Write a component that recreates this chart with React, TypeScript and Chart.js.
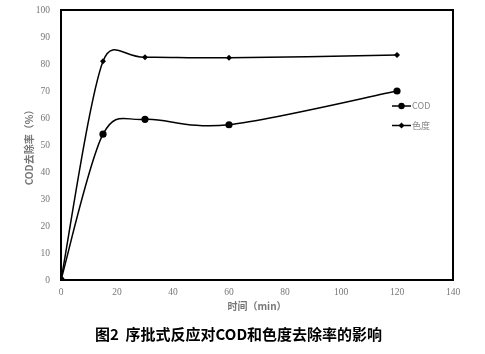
import React, { useEffect, useRef } from "react";
import { Chart, registerables } from "chart.js";

Chart.register(...registerables);

const times = [0, 15, 30, 60, 120];
const codValues = [0, 54, 59.5, 57.5, 70];
const colorValues = [0, 81, 82.5, 82.3, 83.3];
const seriesNames = ["COD", "色度"];
const xTicks = [0, 20, 40, 60, 80, 100, 120, 140];
const yTicks = [0, 10, 20, 30, 40, 50, 60, 70, 80, 90, 100];
const xTitle = "时间（min）";
const yTitle = "COD去除率（%）";
const caption = "图2  序批式反应对COD和色度去除率的影响";

// Excel-like smoothing: tangent = (next - prev) / 6, arm capped by adjacent segment length
const smoothPlugin = {
  id: "excelSmooth",
  afterDatasetsUpdate(chart: any) {
    chart.data.datasets.forEach((_: any, di: number) => {
      const meta = chart.getDatasetMeta(di);
      const line = meta.dataset;
      if (!line) return;
      line.updateControlPoints(chart.chartArea, "x");
      const pts = meta.data;
      const n = pts.length;
      for (let i = 0; i < n; i++) {
        const p = pts[i];
        const prev = pts[Math.max(0, i - 1)];
        const next = pts[Math.min(n - 1, i + 1)];
        const tx = (next.x - prev.x) / 6;
        const ty = (next.y - prev.y) / 6;
        const tl = Math.hypot(tx, ty) || 1;
        const dPrev = Math.hypot(p.x - prev.x, p.y - prev.y);
        const dNext = Math.hypot(next.x - p.x, next.y - p.y);
        const capPrev = i > 0 ? Math.min(1, (0.6 * dPrev) / tl) : 1;
        const capNext = i < n - 1 ? Math.min(1, (0.6 * dNext) / tl) : 1;
        p.cp1x = p.x - tx * capPrev;
        p.cp1y = p.y - ty * capPrev;
        p.cp2x = p.x + tx * capNext;
        p.cp2y = p.y + ty * capNext;
      }
    });
  },
};

const boxPlugin = {
  id: "boxPlugin",
  afterDraw(chart: any) {
    const { ctx, chartArea } = chart;
    ctx.save();
    ctx.strokeStyle = "#000";
    ctx.lineWidth = 2;
    ctx.strokeRect(chartArea.left, chartArea.top, chartArea.right - chartArea.left, chartArea.bottom - chartArea.top);
    ctx.restore();
  },
};

const captionPlugin = {
  id: "captionPlugin",
  afterDraw(chart: any) {
    const { ctx } = chart;
    ctx.save();
    ctx.fillStyle = "#000";
    ctx.font = "bold 15px 'Noto Sans CJK SC', sans-serif";
    ctx.textAlign = "center";
    ctx.textBaseline = "middle";
    ctx.fillText(caption, chart.width / 2 - 4, 334);
    ctx.restore();
  },
};

const legendPlugin = {
  id: "customLegend",
  afterDraw(chart: any) {
    const { ctx, chartArea } = chart;
    const x0 = chartArea.right - 61;
    const y0 = chartArea.top + 96;
    chart.data.datasets.forEach((ds: any, i: number) => {
      const y = y0 + i * 19.5;
      ctx.save();
      ctx.strokeStyle = "#000";
      ctx.lineWidth = 1.5;
      ctx.beginPath();
      ctx.moveTo(x0, y);
      ctx.lineTo(x0 + 19, y);
      ctx.stroke();
      ctx.fillStyle = "#000";
      const cx = x0 + 9.5;
      if (ds.pointStyle === "circle") {
        ctx.beginPath();
        ctx.arc(cx, y, 3.2, 0, Math.PI * 2);
        ctx.fill();
      } else {
        ctx.beginPath();
        ctx.moveTo(cx, y - 3);
        ctx.lineTo(cx + 3, y);
        ctx.lineTo(cx, y + 3);
        ctx.lineTo(cx - 3, y);
        ctx.closePath();
        ctx.fill();
      }
      ctx.fillStyle = "#888";
      ctx.font = "9px 'Noto Sans CJK SC', 'Noto Sans', sans-serif";
      ctx.textBaseline = "middle";
      ctx.textAlign = "left";
      ctx.fillText(ds.label, x0 + 20, y);
      ctx.restore();
    });
  },
};

export default function App() {
  const canvasRef = useRef<HTMLCanvasElement | null>(null);

  useEffect(() => {
    const canvas = canvasRef.current;
    if (!canvas) return;
    const chart = new Chart(canvas, {
      type: "line",
      data: {
        datasets: [
          {
            label: seriesNames[0],
            data: times.map((t, i) => ({ x: t, y: codValues[i] })),
            borderColor: "#000",
            backgroundColor: "#000",
            borderWidth: 1.5,
            pointStyle: "circle",
            pointRadius: 3.6,
            pointBackgroundColor: "#000",
            pointBorderWidth: 0,
            tension: 0.4,
          },
          {
            label: seriesNames[1],
            data: times.map((t, i) => ({ x: t, y: colorValues[i] })),
            borderColor: "#000",
            backgroundColor: "#000",
            borderWidth: 1.5,
            pointStyle: "rectRot",
            pointRadius: 3,
            pointBackgroundColor: "#000",
            pointBorderWidth: 0,
            tension: 0.4,
          },
        ],
      },
      options: {
        animation: false,
        responsive: false,
        maintainAspectRatio: false,
        layout: { padding: { left: 0, top: 10, right: 32, bottom: 34 } },
        plugins: {
          legend: { display: false },
          tooltip: { enabled: false },
          title: { display: false },
        },
        scales: {
          x: {
            type: "linear",
            min: 0,
            max: 140,
            afterBuildTicks: (scale: any) => {
              scale.ticks = xTicks.map((v) => ({ value: v }));
            },
            afterFit: (scale: any) => {
              scale.height = 40;
            },
            grid: { display: false, drawTicks: false },
            border: { display: false },
            ticks: {
              color: "#777",
              font: { family: "'Liberation Serif', serif", size: 9.5 },
              padding: 7,
              maxRotation: 0,
            },
            title: {
              display: true,
              text: xTitle,
              color: "#777",
              font: { family: "'Noto Sans CJK SC', serif", size: 10, weight: "bold" },
              padding: { top: 0, bottom: 8 },
            },
          },
          y: {
            type: "linear",
            min: 0,
            max: 100,
            afterBuildTicks: (scale: any) => {
              scale.ticks = yTicks.map((v) => ({ value: v }));
            },
            afterFit: (scale: any) => {
              scale.width = 61;
              scale.paddingTop = 0;
              scale.paddingBottom = 0;
            },
            grid: { display: false, drawTicks: false },
            border: { display: false },
            ticks: {
              color: "#777",
              font: { family: "'Liberation Serif', serif", size: 9.5 },
              padding: 11,
            },
            title: {
              display: true,
              text: yTitle,
              color: "#777",
              font: { family: "'Noto Sans CJK SC', serif", size: 10, weight: "bold" },
              padding: { top: 23, bottom: 0 },
            },
          },
        },
      },
      plugins: [smoothPlugin, boxPlugin, legendPlugin, captionPlugin],
    });
    return () => chart.destroy();
  }, []);

  return (
    <div style={{ position: "absolute", left: 0, top: 0, width: 485, height: 354, background: "#fff" }}>
      <canvas ref={canvasRef} width={485} height={354} style={{ display: "block" }} />
    </div>
  );
}
